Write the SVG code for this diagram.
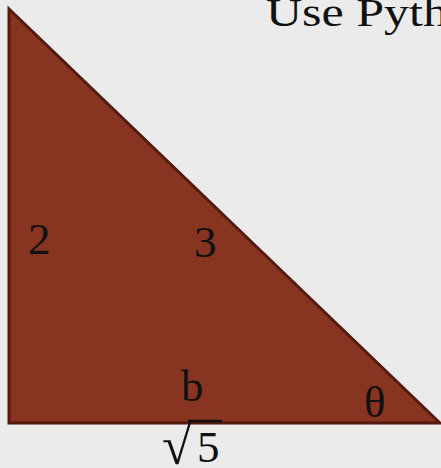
<svg xmlns="http://www.w3.org/2000/svg" width="441" height="468" viewBox="0 0 441 468">
<style>
.t{font-family:"Liberation Serif","DejaVu Serif",serif;fill:#111;}
.lab{font-size:45px;}
</style>
<rect width="441" height="468" fill="#ebebeb"/>
<text class="t" x="266" y="26" font-size="40" textLength="182" lengthAdjust="spacingAndGlyphs">Use Pyth</text>
<g id="triangle">
<polygon points="9,9 9,423 440,423" fill="#873421" stroke="#561b0e" stroke-width="3" stroke-linejoin="miter"/>
</g>
<g id="labels">
<text class="t lab" x="28" y="254">2</text>
<text class="t lab" x="194" y="257">3</text>
<text class="t lab" x="181" y="401">b</text>
<text class="t lab" x="364" y="417">θ</text>
<text class="t" x="162" y="464" font-size="54">√</text>
<text class="t lab" x="197" y="462">5</text>
<line x1="188" y1="421" x2="222" y2="421" stroke="#111" stroke-width="2.5"/>
</g>
</svg>
